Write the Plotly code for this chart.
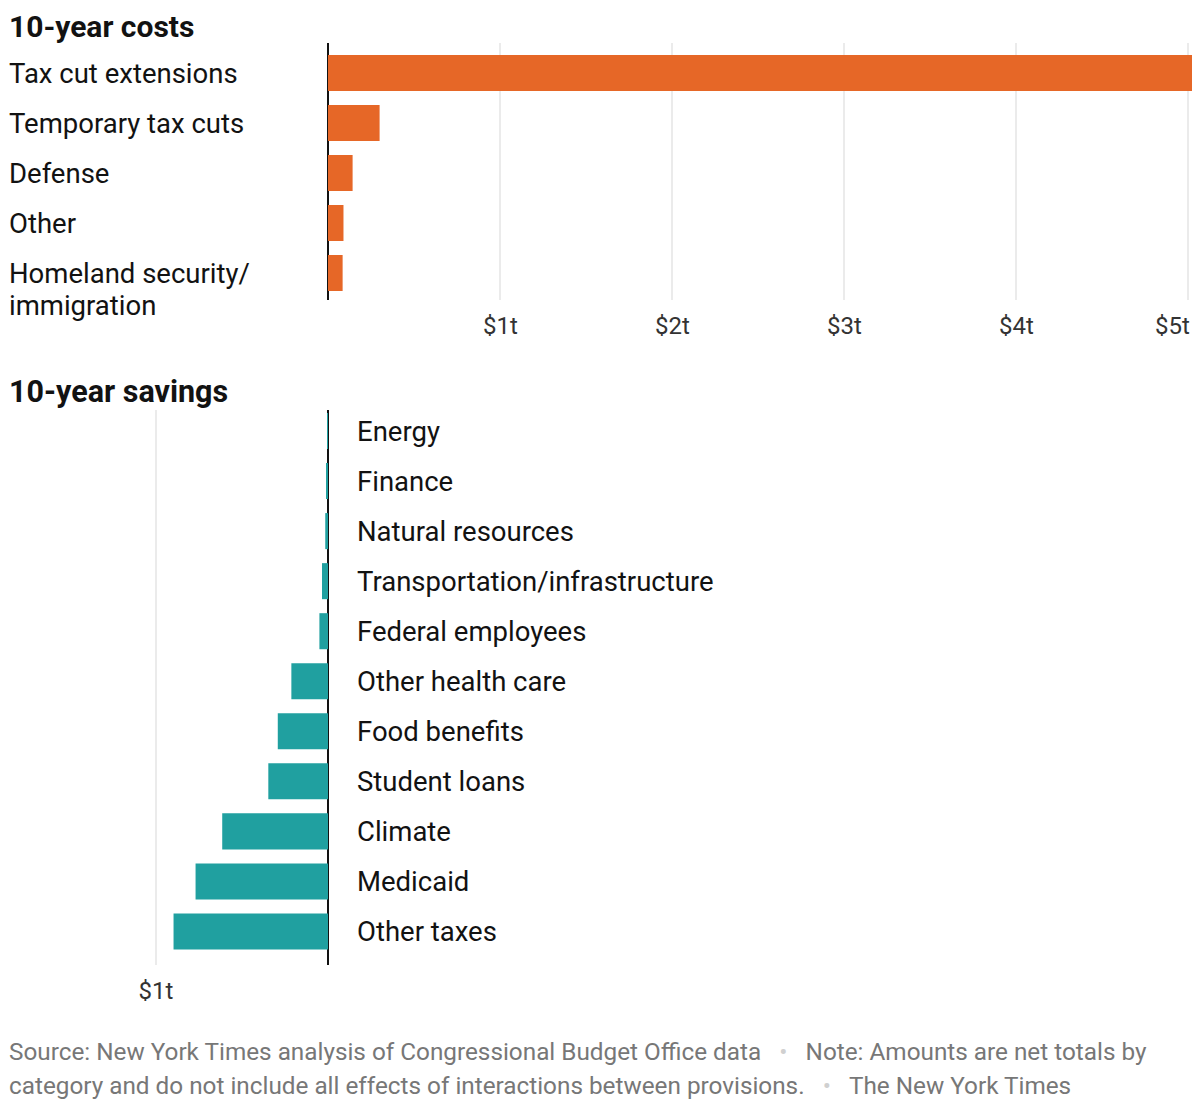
import plotly.graph_objects as go

# ---- data (trillions of dollars, 10-year) ----
cost_categories = ["Tax cut extensions", "Temporary tax cuts", "Defense", "Other",
                   "Homeland security/immigration"]
cost_labels = ["Tax cut extensions", "Temporary tax cuts", "Defense", "Other",
               "Homeland security/<br>immigration"]
cost_values = [5.03, 0.30, 0.143, 0.09, 0.085]

saving_categories = ["Energy", "Finance", "Natural resources", "Transportation/infrastructure",
                     "Federal employees", "Other health care", "Food benefits", "Student loans",
                     "Climate", "Medicaid", "Other taxes"]
saving_values = [-0.001, -0.008, -0.016, -0.035, -0.05, -0.213, -0.292, -0.347, -0.615, -0.77, -0.898]

cost_tickvals = [1, 2, 3, 4, 5]
cost_ticktext = ["$1t", "$2t", "$3t", "$4t", "$5t"]
saving_tickvals = [-1]
saving_ticktext = ["$1t"]

footer_lines = [
    ["Source: New York Times analysis of Congressional Budget Office data",
     "Note: Amounts are net totals by"],
    ["category and do not include all effects of interactions between provisions.",
     "The New York Times"],
]

ORANGE = "#E66727"
TEAL = "#20A0A0"
FONT = "Roboto"
OFF = 8  # page body margin
W, H = 1200 - 2 * OFF, 1108 - 2 * OFF
ZERO_PX = 328.0 - OFF
PX_PER_T = 172.0


def py(page_y):
    return 1 - (page_y - OFF) / H


def pxx(page_x):
    return max(0.0, (page_x - OFF) / W)


fig = go.Figure()
fig.add_trace(go.Bar(x=cost_values, y=cost_categories, orientation="h",
                     marker=dict(color=ORANGE, line=dict(width=0)),
                     xaxis="x", yaxis="y", hoverinfo="x+y"))
fig.add_trace(go.Bar(x=saving_values, y=saving_categories, orientation="h",
                     marker=dict(color=TEAL, line=dict(width=0)),
                     xaxis="x2", yaxis="y2", hoverinfo="x+y"))

xrange = [-ZERO_PX / PX_PER_T, (W - ZERO_PX) / PX_PER_T]

axis_common = dict(showline=False, ticks="", showgrid=True, gridcolor="#EBEBEB", gridwidth=1.5,
                   zeroline=True, zerolinecolor="#121212", zerolinewidth=2,
                   tickfont=dict(family=FONT, size=24, color="#333333"),
                   ticklabelstandoff=9, fixedrange=True)

fig.update_layout(
    width=W, height=H,
    margin=dict(l=0, r=0, t=0, b=0),
    paper_bgcolor="white", plot_bgcolor="white",
    showlegend=False, bargap=0.28,
    xaxis=dict(domain=[0, 1], range=xrange, tickmode="array", tickvals=cost_tickvals,
               ticktext=cost_ticktext, showticklabels=False, anchor="y", **axis_common),
    yaxis=dict(domain=[py(300), py(43)],
               range=[4.54, -0.6], showticklabels=False, showgrid=False, zeroline=False,
               anchor="x", fixedrange=True),
    xaxis2=dict(domain=[0, 1], range=xrange, tickmode="array", tickvals=saving_tickvals,
                ticktext=saving_ticktext, anchor="y2", **axis_common),
    yaxis2=dict(domain=[py(965), py(410)],
                range=[10.67, -0.42], showticklabels=False, showgrid=False, zeroline=False,
                anchor="x2", fixedrange=True),
)

annotations = []
# top axis tick labels, placed on the x axis (last one kept inside the page edge)
for i, (tv, tt) in enumerate(zip(cost_tickvals, cost_ticktext)):
    last = i == len(cost_tickvals) - 1
    annotations.append(dict(text=tt, xref="x", yref="paper", x=tv, y=py(326),
                            xanchor="right" if last else "center", yanchor="middle",
                            xshift=3 if last else 0, showarrow=False, borderpad=0,
                            font=dict(family=FONT, size=24, color="#333333")))
# titles (top one anchored at the top edge so its box stays inside the figure)
annotations.append(dict(text="<b>10-year costs</b>", xref="paper", yref="paper", x=pxx(4),
                        y=1, xanchor="left", yanchor="top", showarrow=False, borderpad=0,
                        font=dict(family=FONT, size=30, color="#121212")))
annotations.append(dict(text="<b>10-year savings</b>", xref="paper", yref="paper", x=pxx(4),
                        y=py(391), xanchor="left", yanchor="middle", showarrow=False,
                        borderpad=0, font=dict(family=FONT, size=30.5, color="#121212")))
# cost category labels (left aligned, multi-line labels stacked 32px apart)
for cat, lab in zip(cost_categories, cost_labels):
    for i, line in enumerate(lab.split("<br>")):
        annotations.append(dict(text=line, xref="paper", yref="y", x=pxx(5), y=cat,
                                xanchor="left", yanchor="middle", showarrow=False,
                                yshift=-32 * i, borderpad=0,
                                font=dict(family=FONT, size=27.5, color="#121212")))
# saving category labels
for cat in saving_categories:
    annotations.append(dict(text=cat, xref="x2", yref="y2", x=0, y=cat,
                            xanchor="left", yanchor="middle", showarrow=False, xshift=27,
                            font=dict(family=FONT, size=27.5, color="#121212")))
# footer
dot = "<span style='color:#D0D0D0'>\u00a0\u00a0\u00a0•\u00a0\u00a0\u00a0</span>"
for (a, b), yy in zip(footer_lines, [1051, 1085]):
    annotations.append(dict(text=a + dot + b, xref="paper", yref="paper", x=pxx(5),
                            y=py(yy), xanchor="left", yanchor="middle", align="left",
                            showarrow=False, borderpad=0,
                            font=dict(family=FONT, size=24.3, color="#777777")))

fig.update_layout(annotations=annotations)

fig.write_html("out.html")
